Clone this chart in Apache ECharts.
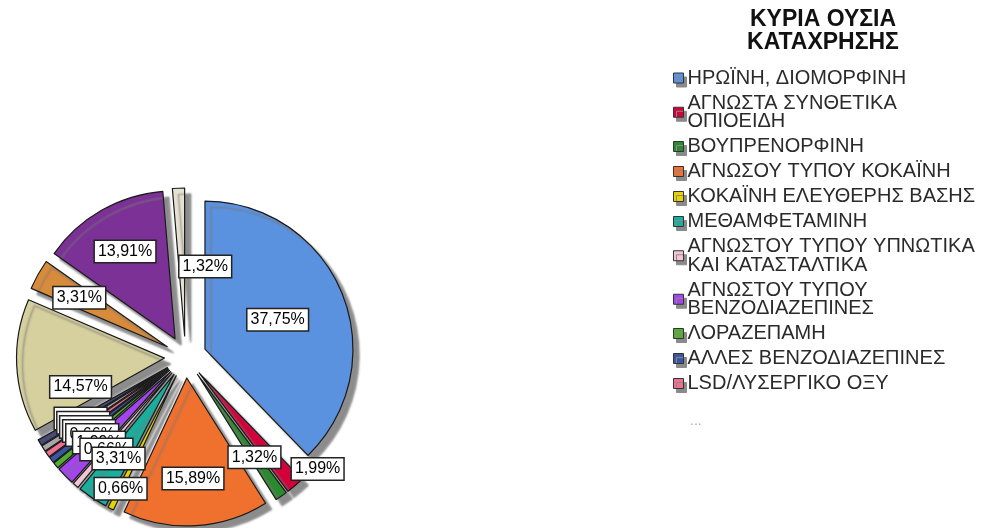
<!DOCTYPE html>
<html><head><meta charset="utf-8">
<script src="https://cdn.jsdelivr.net/npm/echarts@6/dist/echarts.min.js"></script>
<style>html,body{margin:0;padding:0;background:#fff}#c{width:995px;height:528px}</style>
</head><body><div id="c"></div>
<script>
const categories = [
  'ΗΡΩΪΝΗ, ΔΙΟΜΟΡΦΙΝΗ',
  'ΑΓΝΩΣΤΑ ΣΥΝΘΕΤΙΚΑ ΟΠΙΟΕΙΔΗ',
  'ΒΟΥΠΡΕΝΟΡΦΙΝΗ',
  'ΑΓΝΩΣΟΥ ΤΥΠΟΥ ΚΟΚΑΪΝΗ',
  'ΚΟΚΑΪΝΗ ΕΛΕΥΘΕΡΗΣ ΒΑΣΗΣ',
  'ΜΕΘΑΜΦΕΤΑΜΙΝΗ',
  'ΑΓΝΩΣΤΟΥ ΤΥΠΟΥ ΥΠΝΩΤΙΚΑ ΚΑΙ ΚΑΤΑΣΤΑΛΤΙΚΑ',
  'ΑΓΝΩΣΤΟΥ ΤΥΠΟΥ ΒΕΝΖΟΔΙΑΖΕΠΙΝΕΣ',
  'ΛΟΡΑΖΕΠΑΜΗ',
  'ΑΛΛΕΣ ΒΕΝΖΟΔΙΑΖΕΠΙΝΕΣ',
  'LSD/ΛΥΣΕΡΓΙΚΟ ΟΞΥ',
  'ΛΟΙΠΕΣ 1', 'ΛΟΙΠΕΣ 2', 'ΛΟΙΠΕΣ 3', 'ΛΟΙΠΕΣ 4', 'ΛΟΙΠΕΣ 5', 'ΛΟΙΠΕΣ 6'
];
// legend text as wrapped in the reference
const legendLabels = [
  'ΗΡΩΪΝΗ, ΔΙΟΜΟΡΦΙΝΗ',
  'ΑΓΝΩΣΤΑ ΣΥΝΘΕΤΙΚΑ\nΟΠΙΟΕΙΔΗ',
  'ΒΟΥΠΡΕΝΟΡΦΙΝΗ',
  'ΑΓΝΩΣΟΥ ΤΥΠΟΥ ΚΟΚΑΪΝΗ',
  'ΚΟΚΑΪΝΗ ΕΛΕΥΘΕΡΗΣ ΒΑΣΗΣ',
  'ΜΕΘΑΜΦΕΤΑΜΙΝΗ',
  'ΑΓΝΩΣΤΟΥ ΤΥΠΟΥ ΥΠΝΩΤΙΚΑ\nΚΑΙ ΚΑΤΑΣΤΑΛΤΙΚΑ',
  'ΑΓΝΩΣΤΟΥ ΤΥΠΟΥ\nΒΕΝΖΟΔΙΑΖΕΠΙΝΕΣ',
  'ΛΟΡΑΖΕΠΑΜΗ',
  'ΑΛΛΕΣ ΒΕΝΖΟΔΙΑΖΕΠΙΝΕΣ',
  'LSD/ΛΥΣΕΡΓΙΚΟ ΟΞΥ'
];
const values = [37.75, 1.99, 1.32, 15.89, 0.66, 3.31, 0.66, 1.99, 0.66, 0.66, 0.66, 0.66, 0.66, 14.57, 3.31, 13.91, 1.32];
const colors = ['#5b92e0', '#d4003a', '#2b8a2e', '#f0702e', '#e6d400', '#1aae9c', '#f2c6d6', '#a444ee',
  '#52ae32', '#3a56a0', '#f0708e', '#a8a8a8', '#4a4a78', '#d6cf9e', '#d88b3a', '#7b3196', '#e8e2d2'];
const titleText = 'ΚΥΡΙΑ ΟΥΣΙΑ\nΚΑΤΑΧΡΗΣΗΣ';
const moreText = '...';

// pie geometry / label placement style
const pieCenter = [185.5, 357];
const pieRadius = 148;
const explode = 21;
const labelRadiusDefault = 0.68;
// label placement tweaks (radius fraction, optional angle in degrees) keyed by category index
const labelTweaks = {0: {r: 0.53}, 1: {r: 1.03, a: 129}, 4: {r: 0.85}, 13: {r: 0.6, a: 251}, 16: {r: 0.49, a: 16.5}};

const chart = echarts.init(document.getElementById('c'), null, {renderer: 'canvas'});
const font = '"Liberation Sans", Arial, sans-serif';
const legendNames = legendLabels.map((t, i) => categories[i]);
const n = categories.length;
// reversed order drawn counter-clockwise gives the same layout, and earlier slices' labels on top
const order = categories.map((c, i) => n - 1 - i);
const total = values.reduce((a, b) => a + b, 0);
const startDeg = [];
{ let acc = 0; values.forEach(v => { startDeg.push(acc); acc += v / total * 360; }); }

function labelPos(di) {
  const i = order[di];
  const mid = startDeg[i] + values[i] / total * 180;
  const rad = mid * Math.PI / 180;
  const cx = pieCenter[0] + explode * Math.sin(rad);
  const cy = pieCenter[1] - explode * Math.cos(rad);
  const t = labelTweaks[i] || {};
  const f = t.r != null ? t.r : labelRadiusDefault;
  const a = (t.a != null ? t.a : mid) * Math.PI / 180;
  return {x: cx + f * pieRadius * Math.sin(a), y: cy - f * pieRadius * Math.cos(a)};
}

const sliceData = order.map(i => ({name: categories[i], value: values[i], selected: true, itemStyle: {color: colors[i]}}));
const labelData = order.map(i => ({name: categories[i], value: values[i]}));

const option = {
  animation: false,
  backgroundColor: '#fff',
  title: {
    text: titleText, left: 823, top: 8, padding: 0, textAlign: 'center',
    textStyle: {fontFamily: font, fontSize: 23, fontWeight: 'bold', color: '#111', lineHeight: 23}
  },
  legend: {
    orient: 'vertical', left: 673, top: 68, padding: 0,
    data: legendNames,
    formatter: name => legendLabels[categories.indexOf(name)],
    icon: 'rect', itemWidth: 10, itemHeight: 10, itemGap: 5,
    selectedMode: false,
    itemStyle: {borderColor: '#333', borderWidth: 1, shadowColor: '#8a8a8a', shadowOffsetX: 3, shadowOffsetY: 4, shadowBlur: 0},
    textStyle: {fontFamily: font, fontSize: 20, color: '#2a2a2a', lineHeight: 18.5, padding: [0, 0, 0, -1]}
  },
  graphic: [{
    type: 'text', left: 690, top: 414,
    style: {text: moreText, fontFamily: font, fontSize: 14, fill: '#aaa'}
  }],
  series: [{
    type: 'pie', z: 2, center: pieCenter, radius: pieRadius, startAngle: 90, clockwise: false,
    selectedMode: 'multiple', selectedOffset: explode, silent: true,
    itemStyle: {borderColor: '#1a1a1a', borderWidth: 1.2, shadowColor: 'rgba(120,120,120,0.85)', shadowBlur: 2, shadowOffsetX: 6, shadowOffsetY: 6},
    label: {show: false},
    labelLine: {show: false},
    data: sliceData
  }, {
    // percentage labels, placed in the exploded slices
    type: 'pie', z: 10, center: pieCenter, radius: pieRadius, startAngle: 90, clockwise: false,
    silent: true, legendHoverLink: false,
    avoidLabelOverlap: false, minShowLabelAngle: 0,
    itemStyle: {color: 'rgba(0,0,0,0)', borderWidth: 0},
    labelLayout: function (p) {
      const pos = labelPos(p.dataIndex);
      return {x: pos.x, y: pos.y, align: 'center', verticalAlign: 'middle', hideOverlap: false};
    },
    label: {
      show: true, position: 'inside',
      formatter: p => p.value.toFixed(2).replace('.', ',') + '%',
      fontFamily: font, fontSize: 16, color: '#000',
      backgroundColor: '#fff', borderColor: '#222', borderWidth: 1.5, padding: [3, 3, 2, 3]
    },
    labelLine: {show: false},
    data: labelData
  }]
};
chart.setOption(option);
</script>
</body></html>
